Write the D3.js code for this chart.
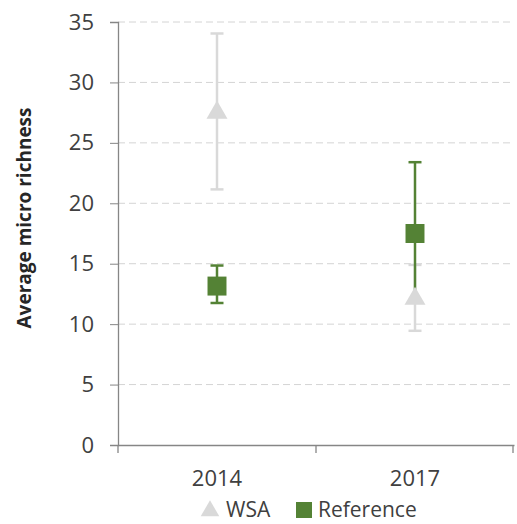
<!DOCTYPE html>
<html><head><meta charset="utf-8">
<script src="https://d3js.org/d3.v7.min.js"></script>
<style>body{margin:0;background:#fff}</style>
</head><body>
<script>
const categories = ["2014", "2017"];
const seriesNames = ["WSA", "Reference"];
const wsaMean = [27.5, 12.1];
const wsaLow = [21.15, 9.45];
const wsaHigh = [34.05, 14.9];
const refMean = [13.15, 17.5];
const refLow = [11.75, 11.8];
const refHigh = [14.85, 23.4];
const yTicks = [0, 5, 10, 15, 20, 25, 30, 35];

const W = 517, H = 524;
const margin = {left: 118, right: 3, top: 22, bottom: 79};
const svg = d3.select("body").append("svg").attr("width", W).attr("height", H);
const x = d3.scaleBand().domain(categories).range([margin.left, W - margin.right]);
const y = d3.scaleLinear().domain([0, 35]).range([H - margin.bottom, margin.top]);
const font = "'Open Sans', sans-serif";

// gridlines
svg.append("g").selectAll("line").data(yTicks.filter(d => d > 0)).join("line")
  .attr("x1", margin.left).attr("x2", W - margin.right)
  .attr("y1", d => y(d)).attr("y2", d => y(d))
  .attr("stroke", "#d4d4d4").attr("stroke-width", 1).attr("stroke-dasharray", "7,4");

// y axis
const ya = svg.append("g").attr("transform", `translate(${margin.left},0)`)
  .call(d3.axisLeft(y).tickValues(yTicks).tickSize(8).tickPadding(16).tickFormat(d3.format("d")));
ya.select(".domain").attr("stroke", "#868686").attr("stroke-width", 1.3);
ya.selectAll(".tick line").attr("stroke", "#868686");
ya.selectAll("text").attr("font-family", font).attr("font-size", 22).attr("fill", "#404040");

// x axis
const xa = svg.append("g").attr("transform", `translate(0,${y(0)})`)
  .call(d3.axisBottom(x).tickSize(0).tickPadding(25));
xa.select(".domain").attr("stroke", "#868686").attr("stroke-width", 1.3);
xa.selectAll("text").attr("font-family", font).attr("font-size", 22).attr("fill", "#404040");
// category boundary ticks
const bounds = [x.range()[0], x(categories[1]), x.range()[1] - 1];
svg.append("g").selectAll("line").data(bounds).join("line")
  .attr("x1", d => d).attr("x2", d => d)
  .attr("y1", y(0)).attr("y2", y(0) + 8)
  .attr("stroke", "#868686").attr("stroke-width", 1.3);

// title
svg.append("text")
  .attr("transform", `translate(31,218) rotate(-90)`)
  .attr("text-anchor", "middle").attr("font-family", font).attr("font-weight", "bold")
  .attr("font-size", 19).attr("fill", "#262626").text("Average micro richness");

const cx = d => x(d) + x.bandwidth() / 2;
const tri = d3.symbol().type(d3.symbolTriangle).size(190);
const sq = d3.symbol().type(d3.symbolSquare).size(360);

function errBars(lo, hi, color, w) {
  const g = svg.append("g");
  categories.forEach((c, i) => {
    g.append("line").attr("x1", cx(c)).attr("x2", cx(c)).attr("y1", y(lo[i])).attr("y2", y(hi[i]))
      .attr("stroke", color).attr("stroke-width", w);
    [lo[i], hi[i]].forEach(v => g.append("line")
      .attr("x1", cx(c) - 6.5).attr("x2", cx(c) + 6.5).attr("y1", y(v)).attr("y2", y(v))
      .attr("stroke", color).attr("stroke-width", w));
  });
}
const gray = "#d9d9d9", green = "#548235";
errBars(wsaLow, wsaHigh, gray, 2.5);
errBars(refLow, refHigh, green, 2.5);
svg.append("g").selectAll("path").data(categories).join("path")
  .attr("d", tri).attr("fill", gray)
  .attr("transform", (c, i) => `translate(${cx(c)},${y(wsaMean[i])})`);
svg.append("g").selectAll("path").data(categories).join("path")
  .attr("d", sq).attr("fill", green)
  .attr("transform", (c, i) => `translate(${cx(c)},${y(refMean[i])})`);

// legend
const lg = svg.append("g");
lg.append("path").attr("d", d3.symbol().type(d3.symbolTriangle).size(150)).attr("fill", gray)
  .attr("transform", "translate(210,511)");
lg.append("text").attr("x", 226).attr("y", 517).attr("font-family", font).attr("font-size", 21)
  .attr("fill", "#404040").text(seriesNames[0]);
lg.append("rect").attr("x", 296).attr("y", 502).attr("width", 16).attr("height", 16).attr("fill", green);
lg.append("text").attr("x", 318).attr("y", 517).attr("font-family", font).attr("font-size", 21)
  .attr("fill", "#404040").text(seriesNames[1]);
</script>
</body></html>
